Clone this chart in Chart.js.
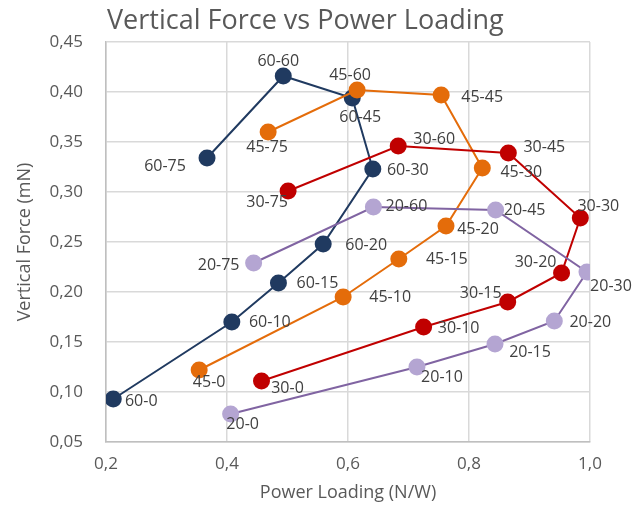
<!DOCTYPE html>
<html>
<head>
<meta charset="utf-8">
<script src="https://cdn.jsdelivr.net/npm/chart.js@4.4.1/dist/chart.umd.min.js"></script>
<style>
  html, body { margin: 0; padding: 0; background: #fff; }
  #wrap { width: 644px; height: 506px; position: relative; }
</style>
</head>
<body>
<div id="wrap"><canvas id="forceChart"></canvas></div>
<script>
// --- DATA ---
const seriesNames = ['20', '30', '45', '60'];
const stepLabels = ['0', '10', '15', '20', '30', '45', '60', '75'];

const load20 = [0.406, 0.714, 0.843, 0.941, 0.995, 0.844, 0.642, 0.444];
const force20 = [0.078, 0.125, 0.148, 0.171, 0.220, 0.282, 0.285, 0.229];

const load30 = [0.457, 0.725, 0.864, 0.953, 0.984, 0.865, 0.683, 0.501];
const force30 = [0.111, 0.165, 0.190, 0.219, 0.274, 0.339, 0.346, 0.301];

const load45 = [0.354, 0.592, 0.684, 0.762, 0.822, 0.754, 0.615, 0.468];
const force45 = [0.122, 0.195, 0.233, 0.266, 0.324, 0.397, 0.402, 0.360];

const load60 = [0.212, 0.408, 0.485, 0.559, 0.641, 0.607, 0.493, 0.367];
const force60 = [0.093, 0.170, 0.209, 0.248, 0.323, 0.394, 0.416, 0.334];

const xTicks = [0.2, 0.4, 0.6, 0.8, 1.0];
const yTicks = [0.05, 0.10, 0.15, 0.20, 0.25, 0.30, 0.35, 0.40, 0.45];

// --- STYLE ---
const lineColors = ['#8064A2', '#C00000', '#E46C0A', '#203A60'];
const dotColors = ['#B4A5D2', '#C00000', '#E46C0A', '#203A60'];

// label offsets from the dot centre [dx, dy], one row per series
const labelOffsets = [
  [[12, 10], [25, 10], [35, 8], [36, 1], [24, 14], [29, 0], [33, -1], [-35, 2]],
  [[26, 7], [35, 1], [-27, -9], [-26, -11], [18, -12], [36, -6], [36, -7], [-21, 11]],
  [[10, 12], [47, 0], [48, 0], [32, 3], [39, 4], [41, 2], [-7, -15], [-1, 15]],
  [[28, 2], [38, 0], [39, 0], [43, 1], [35, 1], [8, 19], [-5, -15], [-42, 8]]
];

const TEXT = '#595959';
const FONT = '"Open Sans", "Noto Sans", sans-serif';

function toPoints(xs, ys) {
    return xs.map((x, i) => ({ x: x, y: ys[i] }));
}

const allLoads = [load20, load30, load45, load60];
const allForces = [force20, force30, force45, force60];

const datasets = seriesNames.map((name, s) => ({
    label: name,
    data: toPoints(allLoads[s], allForces[s]),
    showLine: true,
    borderColor: lineColors[s],
    borderWidth: 2,
    backgroundColor: dotColors[s],
    pointBackgroundColor: dotColors[s],
    pointBorderColor: dotColors[s],
    pointBorderWidth: 0,
    pointRadius: 8.5,
    pointHoverRadius: 8.5,
    tension: 0
}));

// point labels such as "60-45"
const pointLabels = {
    id: 'pointLabels',
    afterDatasetsDraw(chart) {
        const ctx = chart.ctx;
        ctx.save();
        ctx.font = '16px ' + FONT;
        ctx.fillStyle = '#404040';
        ctx.textAlign = 'center';
        ctx.textBaseline = 'middle';
        chart.data.datasets.forEach((ds, s) => {
            const meta = chart.getDatasetMeta(s);
            meta.data.forEach((pt, i) => {
                const off = labelOffsets[s][i];
                ctx.fillText(seriesNames[s] + '-' + stepLabels[i], pt.x + off[0], pt.y + off[1]);
            });
        });
        ctx.restore();
    }
};

const chartTitle = {
    id: 'chartTitle',
    afterDraw(chart) {
        const ctx = chart.ctx;
        ctx.save();
        ctx.font = '27px ' + FONT;
        ctx.fillStyle = TEXT;
        ctx.textAlign = 'left';
        ctx.textBaseline = 'middle';
        ctx.fillText('Vertical Force vs Power Loading', 107, 21);
        ctx.restore();
    }
};

new Chart(document.getElementById('forceChart'), {
    type: 'scatter',
    data: { datasets: datasets },
    options: {
        responsive: true,
        maintainAspectRatio: false,
        animation: false,
        layout: { padding: { left: 0, top: 42, right: 54, bottom: 0 } },
        plugins: {
            legend: { display: false },
            tooltip: { enabled: false },
            title: { display: false }
        },
        scales: {
            x: {
                type: 'linear',
                min: 0.2,
                max: 1.0,
                afterBuildTicks: (scale) => { scale.ticks = xTicks.map(v => ({ value: v })); },
                afterFit: (scale) => { scale.height = 64; },
                ticks: {
                    color: TEXT,
                    font: { family: FONT, size: 17 },
                    padding: 12,
                    callback: (v) => v.toFixed(1).replace('.', ',')
                },
                grid: { color: '#D9D9D9', lineWidth: 1.5, drawTicks: false },
                border: { color: '#BFBFBF', width: 1.5 },
                title: {
                    display: true,
                    text: 'Power Loading (N/W)',
                    color: TEXT,
                    font: { family: FONT, size: 18 },
                    padding: { top: 0, bottom: 2 }
                }
            },
            y: {
                type: 'linear',
                min: 0.05,
                max: 0.45,
                afterBuildTicks: (scale) => { scale.ticks = yTicks.map(v => ({ value: v })); },
                afterFit: (scale) => { scale.width = 106; },
                ticks: {
                    color: TEXT,
                    font: { family: FONT, size: 17 },
                    padding: 23,
                    callback: (v) => v.toFixed(2).replace('.', ',')
                },
                grid: { color: '#D9D9D9', lineWidth: 1.5, drawTicks: false },
                border: { color: '#BFBFBF', width: 1.5 },
                title: {
                    display: true,
                    text: 'Vertical Force (mN)',
                    color: TEXT,
                    font: { family: FONT, size: 18 },
                    padding: { top: 14, bottom: 0 }
                }
            }
        }
    },
    plugins: [pointLabels, chartTitle]
});
</script>
</body>
</html>
